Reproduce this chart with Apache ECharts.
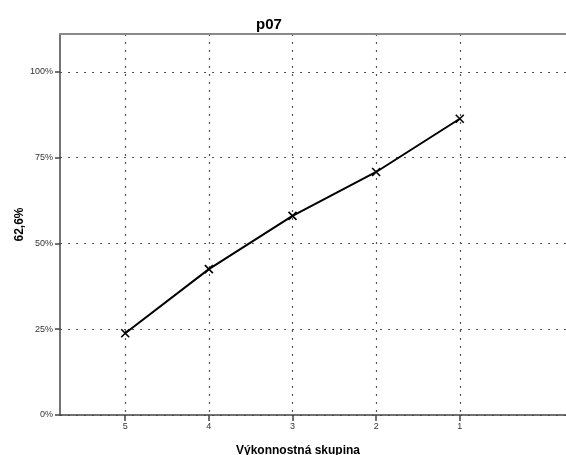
<!DOCTYPE html>
<html>
<head>
<meta charset="utf-8">
<script src="https://cdn.jsdelivr.net/npm/echarts@6/dist/echarts.min.js"></script>
<style>html,body{margin:0;padding:0;background:#fff}#c{width:566px;height:455px}</style>
</head>
<body>
<div id="c"></div>
<script>
var categories = ['5', '4', '3', '2', '1'];
var values = [23.8, 42.5, 58.0, 70.8, 86.3];
var yTicks = [0, 25, 50, 75, 100];
var titleText = 'p07';
var xName = 'Výkonnostná skupina';
var yName = '62,6%';

var positions = categories.map(function (c, i) { return i + 1; });
var seriesData = values.map(function (v, i) { return [positions[i], v]; });

var font = '"Liberation Sans", Arial, sans-serif';
var chart = echarts.init(document.getElementById('c'), null, {renderer: 'canvas'});
chart.setOption({
  backgroundColor: '#fff',
  animation: false,
  title: [
    {text: titleText, left: 264, top: 12, textAlign: 'center',
     textStyle: {fontFamily: font, fontSize: 15, fontWeight: 'bold', color: '#000'}},
    {text: xName, left: 293, top: 440, textAlign: 'center',
     textStyle: {fontFamily: font, fontSize: 12, fontWeight: 'bold', color: '#000'}}
  ],
  grid: {left: 60, top: 34, right: 0, bottom: 40, show: false, containLabel: false, outerBoundsMode: 'none'},
  xAxis: [{
    type: 'value', min: 0.22, max: 6.27,
    axisLine: {show: true, onZero: false, lineStyle: {color: '#444', width: 1.5}},
    axisTick: {show: true, customValues: positions, length: 6, lineStyle: {color: '#444', width: 1.5}},
    axisLabel: {customValues: positions, fontFamily: font, fontSize: 9, color: '#333', margin: 7,
      formatter: function (v) { return categories[Math.round(v) - 1] || ''; }},
    splitLine: {show: true, lineStyle: {color: '#555', type: [2, 6], width: 1.2}}
  }, {
    type: 'value', position: 'top', min: 0.22, max: 6.27,
    axisLine: {show: true, onZero: false, lineStyle: {color: '#8a8a8a', width: 2}},
    axisTick: {show: false}, axisLabel: {show: false}, splitLine: {show: false}
  }],
  yAxis: {
    type: 'value', min: 0, max: 111,
    name: yName, nameLocation: 'middle', nameGap: 34, nameRotate: 90, nameMoveOverlap: false,
    nameTextStyle: {fontFamily: font, fontSize: 12, fontWeight: 'bold', color: '#000'},
    axisLine: {show: true, lineStyle: {color: '#444', width: 1.5}},
    axisTick: {show: true, customValues: yTicks, length: 5, lineStyle: {color: '#444', width: 1.5}},
    axisLabel: {customValues: yTicks, fontFamily: font, fontSize: 9, color: '#333', margin: 7,
      formatter: function (v) { return v + '%'; }},
    splitLine: {show: true, lineStyle: {color: '#555', type: [2, 6], width: 1.2}}
  },
  series: [{
    type: 'line',
    xAxisIndex: 0,
    data: seriesData,
    symbol: 'path://M0,0 L10,10 M10,0 L0,10',
    symbolSize: 8,
    showSymbol: true,
    lineStyle: {color: '#000', width: 2},
    itemStyle: {color: 'none', borderColor: '#000', borderWidth: 1.6}
  }]
});
</script>
</body>
</html>
